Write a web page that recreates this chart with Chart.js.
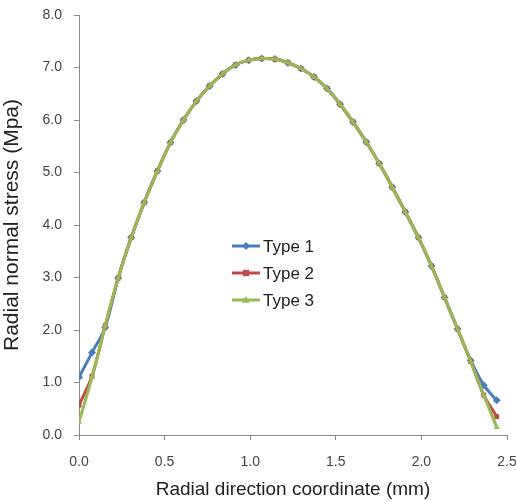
<!DOCTYPE html>
<html lang="en">
<head>
    <meta charset="UTF-8">
    <title>Radial normal stress</title>
    <script src="https://cdn.jsdelivr.net/npm/chart.js"></script>
    <style>
        body { margin: 0; background: #fff; }
        #wrap { width: 516px; height: 501px; position: relative; }
    </style>
</head>
<body>
    <div id="wrap"><canvas id="stressChart"></canvas></div>

    <script>
        // radial coordinate (mm)
        const radialX = [0, 0.076, 0.153, 0.229, 0.305, 0.381, 0.458, 0.534, 0.61, 0.686, 0.763,
            0.839, 0.915, 0.991, 1.068, 1.144, 1.22, 1.296, 1.373, 1.449, 1.525, 1.601, 1.678,
            1.754, 1.83, 1.906, 1.983, 2.059, 2.135, 2.211, 2.288, 2.364, 2.44];

        // radial normal stress (MPa)
        const type1 = [1.10, 1.57, 2.05, 2.99, 3.76, 4.43, 5.03, 5.57, 6.00, 6.36, 6.65,
            6.88, 7.05, 7.14, 7.17, 7.16, 7.09, 6.98, 6.82, 6.60, 6.30, 5.96, 5.58,
            5.17, 4.72, 4.25, 3.76, 3.22, 2.62, 2.02, 1.42, 0.95, 0.66];
        const type2 = [0.57, 1.12, 2.08, 2.99, 3.76, 4.43, 5.03, 5.57, 6.00, 6.36, 6.65,
            6.88, 7.05, 7.14, 7.17, 7.16, 7.09, 6.98, 6.82, 6.60, 6.30, 5.96, 5.58,
            5.17, 4.72, 4.25, 3.76, 3.22, 2.62, 2.02, 1.40, 0.76, 0.35];
        const type3 = [0.25, 1.10, 2.08, 2.99, 3.76, 4.43, 5.03, 5.57, 6.00, 6.36, 6.65,
            6.88, 7.05, 7.14, 7.17, 7.16, 7.09, 6.98, 6.82, 6.60, 6.30, 5.96, 5.58,
            5.17, 4.72, 4.25, 3.76, 3.22, 2.62, 2.02, 1.40, 0.76, 0.15];

        const seriesNames = ['Type 1', 'Type 2', 'Type 3'];
        const xTicks = [0, 0.5, 1.0, 1.5, 2.0, 2.5];
        const yTicks = [0, 1, 2, 3, 4, 5, 6, 7, 8];

        const colors = ['#4A7EBB', '#BE4B48', '#98B954'];
        const markers = ['rectRot', 'rect', 'triangle'];
        const fontFamily = "'Liberation Sans', Arial, sans-serif";

        function toPoints(ys) {
            return radialX.map((x, i) => ({ x: x, y: ys[i] }));
        }

        function drawMarker(ctx, style, x, y, r) {
            ctx.beginPath();
            if (style === 'rectRot') {
                ctx.moveTo(x, y - r); ctx.lineTo(x + r, y); ctx.lineTo(x, y + r); ctx.lineTo(x - r, y);
            } else if (style === 'rect') {
                ctx.rect(x - r * 0.8, y - r * 0.8, r * 1.6, r * 1.6);
            } else {
                ctx.moveTo(x, y - r); ctx.lineTo(x + r, y + r * 0.7); ctx.lineTo(x - r, y + r * 0.7);
            }
            ctx.closePath();
            ctx.fill();
        }

        // legend sits inside the plot, like the original
        const insideLegend = {
            id: 'insideLegend',
            afterDraw(chart) {
                const ctx = chart.ctx;
                ctx.save();
                ctx.font = '17px ' + fontFamily;
                ctx.textBaseline = 'middle';
                seriesNames.forEach((name, i) => {
                    const y = 246 + i * 27;
                    ctx.strokeStyle = colors[i];
                    ctx.fillStyle = colors[i];
                    ctx.lineWidth = 3;
                    ctx.beginPath();
                    ctx.moveTo(232, y);
                    ctx.lineTo(260, y);
                    ctx.stroke();
                    drawMarker(ctx, markers[i], 246, y, 4);
                    ctx.fillStyle = '#222';
                    ctx.fillText(name, 263, y + 1);
                });
                ctx.restore();
            }
        };

        const datasets = [type1, type2, type3].map((ys, i) => ({
            label: seriesNames[i],
            data: toPoints(ys),
            borderColor: colors[i],
            backgroundColor: colors[i],
            borderWidth: 3,
            pointStyle: markers[i],
            pointRadius: i === 0 ? 4 : 3.5,
            pointBorderWidth: 0,
            tension: 0.3,
            order: 2 - i
        }));

        const ctx = document.getElementById('stressChart').getContext('2d');
        new Chart(ctx, {
            type: 'line',
            data: { datasets: datasets },
            options: {
                responsive: true,
                maintainAspectRatio: false,
                animation: false,
                layout: { padding: { top: 15, right: 9, left: 0, bottom: 0 } },
                plugins: {
                    legend: { display: false },
                    tooltip: { enabled: false }
                },
                scales: {
                    x: {
                        type: 'linear',
                        min: 0,
                        max: 2.5,
                        afterBuildTicks: s => { s.ticks = xTicks.map(v => ({ value: v })); },
                        afterFit: s => { s.height = 66; s.paddingLeft = 0; s.paddingRight = 0; },
                        ticks: {
                            callback: v => Number(v).toFixed(1),
                            color: '#444',
                            font: { family: fontFamily, size: 14 },
                            padding: 14
                        },
                        grid: { drawOnChartArea: false, tickLength: 5, color: '#8a8a8a' },
                        border: { color: '#8a8a8a' },
                        title: {
                            display: true,
                            text: 'Radial direction coordinate (mm)',
                            color: '#222',
                            font: { family: fontFamily, size: 19 },
                            padding: { top: 2, bottom: 0 }
                        }
                    },
                    y: {
                        min: 0,
                        max: 8,
                        afterBuildTicks: s => { s.ticks = yTicks.map(v => ({ value: v })); },
                        afterFit: s => { s.width = 79; s.paddingTop = 0; s.paddingBottom = 0; },
                        ticks: {
                            callback: v => Number(v).toFixed(1),
                            color: '#444',
                            font: { family: fontFamily, size: 14 },
                            padding: 12
                        },
                        grid: { drawOnChartArea: false, tickLength: 5, color: '#8a8a8a' },
                        border: { color: '#8a8a8a' },
                        title: {
                            display: true,
                            text: 'Radial normal stress (Mpa)',
                            color: '#222',
                            font: { family: fontFamily, size: 21 },
                            padding: { top: 0, bottom: 2 }
                        }
                    }
                }
            },
            plugins: [insideLegend]
        });
    </script>
</body>
</html>
